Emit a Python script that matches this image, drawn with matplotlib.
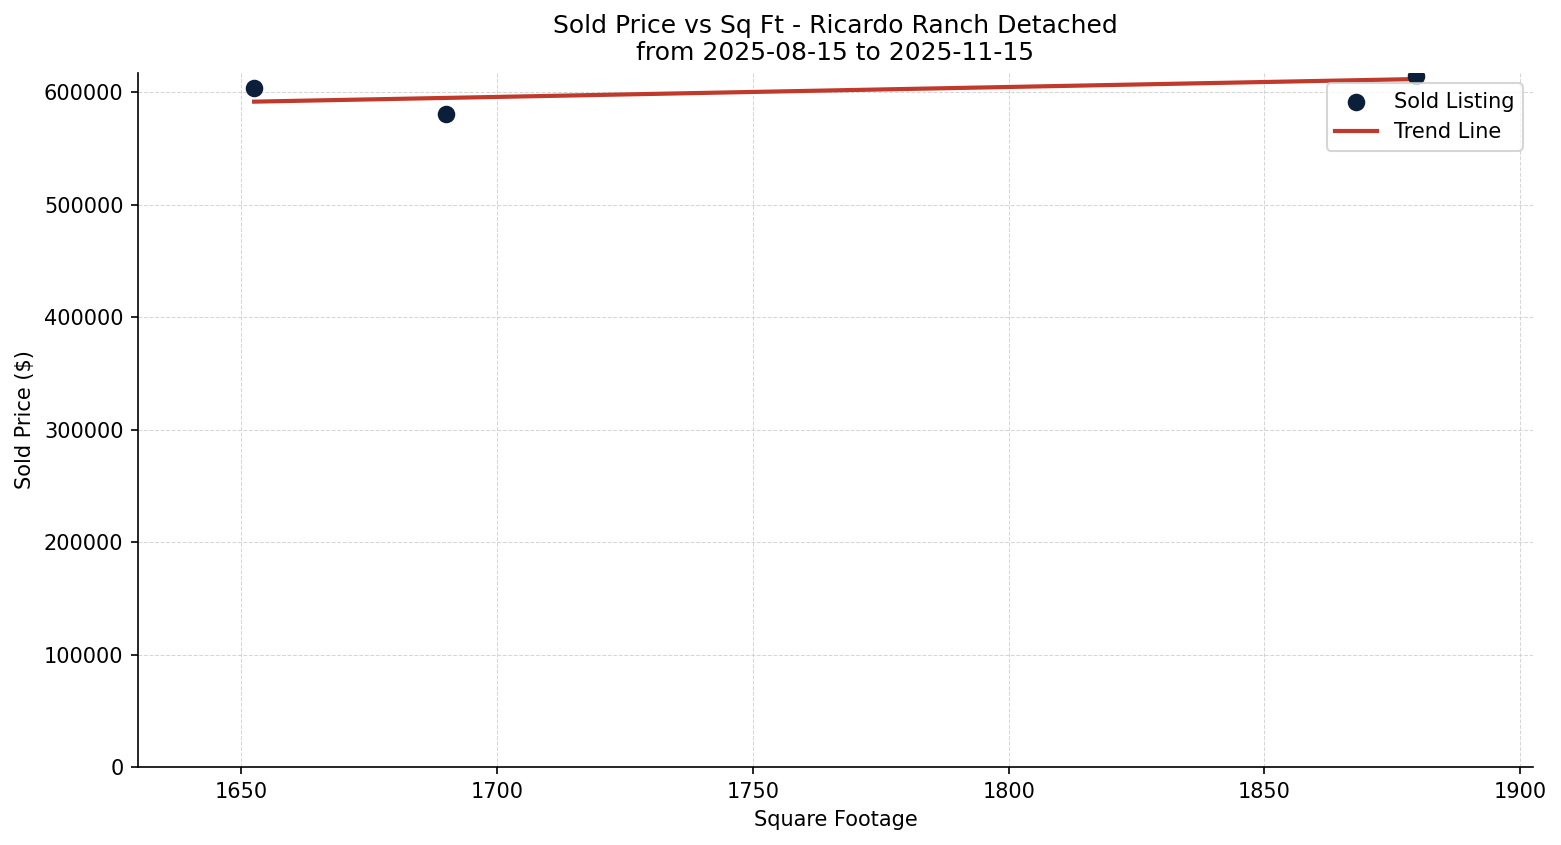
import numpy as np
import matplotlib
matplotlib.use("Agg")
import matplotlib.pyplot as plt

# sold listings
sqft = [1652.5, 1690.0, 1879.7]
sold_price = [603600, 580400, 614000]

title = "Sold Price vs Sq Ft - Ricardo Ranch Detached\nfrom 2025-08-15 to 2025-11-15"

fig = plt.figure(figsize=(1561 / 150, 845 / 150), dpi=150)
ax = fig.add_axes([138 / 1561, 1 - 767 / 845, (1533 - 138) / 1561, (767 - 73) / 845])

ax.scatter(sqft, sold_price, s=55, color="#0b1f3a", zorder=3, label="Sold Listing")

# simple linear trend line
coef = np.polyfit(sqft, sold_price, 1)
xs = np.array([min(sqft), max(sqft)])
ax.plot(xs, np.polyval(coef, xs), color="#c0392b", linewidth=2, label="Trend Line", zorder=2)

ax.set_xlim(1629.8, 1902.5)
ax.set_ylim(0, 617000)
ax.set_xticks([1650, 1700, 1750, 1800, 1850, 1900])
ax.set_yticks([0, 100000, 200000, 300000, 400000, 500000, 600000])
ax.ticklabel_format(style="plain", axis="y")

ax.set_xlabel("Square Footage")
ax.set_ylabel("Sold Price ($)")
ax.set_title(title)

ax.grid(True, linestyle="--", linewidth=0.5, color="#cccccc", alpha=0.8)
ax.spines["top"].set_visible(False)
ax.spines["right"].set_visible(False)
ax.legend(loc="upper right")

fig.savefig("out.png", dpi=150)
